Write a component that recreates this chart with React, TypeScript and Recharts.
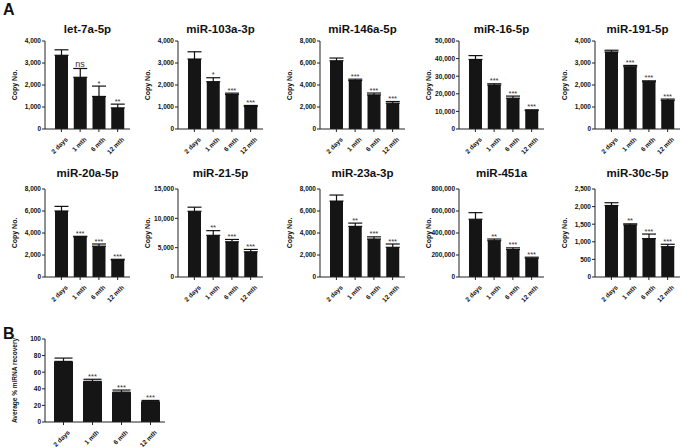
import React from 'react';
import { ComposedChart, Bar, Line, XAxis, YAxis, ErrorBar, LabelList } from 'recharts';

const FONT = '"Liberation Sans", Arial, Helvetica, sans-serif';

const timepoints = ['2 days', '1 mth', '6 mth', '12 mth'];

// panel A: copy numbers (mean, SEM, significance vs 2 days)
const let7aMean = [3350, 2350, 1480, 960];
const let7aSem = [250, 400, 470, 170];
const let7aSig = ['', 'ns', '*', '**'];

const mir103aMean = [3180, 2150, 1570, 1020];
const mir103aSem = [330, 180, 60, 50];
const mir103aSig = ['', '*', '***', '***'];

const mir146aMean = [6200, 4400, 3100, 2350];
const mir146aSem = [250, 130, 170, 150];
const mir146aSig = ['', '***', '***', '***'];

const mir16Mean = [39500, 25000, 17500, 10500];
const mir16Sem = [2200, 700, 1200, 400];
const mir16Sig = ['', '***', '***', '***'];

const mir191Mean = [3500, 2830, 2150, 1300];
const mir191Sem = [80, 60, 40, 60];
const mir191Sig = ['', '***', '***', '***'];

const mir20aMean = [6000, 3650, 2800, 1550];
const mir20aSem = [420, 50, 200, 60];
const mir20aSig = ['', '***', '***', '***'];

const mir21Mean = [11200, 7100, 6000, 4300];
const mir21Sem = [700, 800, 400, 400];
const mir21Sig = ['', '**', '***', '***'];

const mir23aMean = [6900, 4600, 3450, 2700];
const mir23aSem = [550, 300, 200, 300];
const mir23aSig = ['', '**', '***', '***'];

const mir451aMean = [525000, 330000, 250000, 170000];
const mir451aSem = [60000, 15000, 15000, 10000];
const mir451aSig = ['', '**', '***', '***'];

const mir30cMean = [2030, 1480, 1090, 860];
const mir30cSem = [80, 30, 130, 70];
const mir30cSig = ['', '**', '***', '***'];

// panel B: average % recovery
const recoveryMean = [73, 49, 36, 24.5];
const recoverySem = [4, 2.5, 2.5, 1.5];
const recoverySig = ['', '***', '***', '***'];

const ticks4k = [0, 1000, 2000, 3000, 4000];
const ticks8k = [0, 2000, 4000, 6000, 8000];
const ticks50k = [0, 10000, 20000, 30000, 40000, 50000];
const ticks15k = [0, 5000, 10000, 15000];
const ticks800k = [0, 200000, 400000, 600000, 800000];
const ticks2500 = [0, 500, 1000, 1500, 2000, 2500];
const ticksPct = [0, 20, 40, 60, 80, 100];

const buildData = (mean: number[], sem: number[], sig: string[]) =>
  timepoints.map((t, i) => ({
    t,
    mean: mean[i],
    err: [0, sem[i]],
    top: mean[i] + sem[i],
    sig: sig[i],
  }));

const panels = [
  { title: 'let-7a-5p', data: buildData(let7aMean, let7aSem, let7aSig), ticks: ticks4k },
  { title: 'miR-103a-3p', data: buildData(mir103aMean, mir103aSem, mir103aSig), ticks: ticks4k },
  { title: 'miR-146a-5p', data: buildData(mir146aMean, mir146aSem, mir146aSig), ticks: ticks8k },
  { title: 'miR-16-5p', data: buildData(mir16Mean, mir16Sem, mir16Sig), ticks: ticks50k },
  { title: 'miR-191-5p', data: buildData(mir191Mean, mir191Sem, mir191Sig), ticks: ticks4k },
  { title: 'miR-20a-5p', data: buildData(mir20aMean, mir20aSem, mir20aSig), ticks: ticks8k },
  { title: 'miR-21-5p', data: buildData(mir21Mean, mir21Sem, mir21Sig), ticks: ticks15k },
  { title: 'miR-23a-3p', data: buildData(mir23aMean, mir23aSem, mir23aSig), ticks: ticks8k },
  { title: 'miR-451a', data: buildData(mir451aMean, mir451aSem, mir451aSig), ticks: ticks800k },
  { title: 'miR-30c-5p', data: buildData(mir30cMean, mir30cSem, mir30cSig), ticks: ticks2500 },
];

const recoveryData = buildData(recoveryMean, recoverySem, recoverySig);

const colAxisX = [45, 178, 320, 459, 595];
const rowPlotTop = [41, 189];
const rowTitleY = [29, 173];

const XTick = (props: any) => {
  const { x, y, payload } = props;
  return (
    <g transform={`translate(${x + 4},${y + 3})`}>
      <text
        x={0}
        y={0}
        dy={4}
        textAnchor="end"
        transform="rotate(-45)"
        fontSize={6.5}
        fontWeight="bold"
        fontFamily={FONT}
        fill="#111"
      >
        {payload.value}
      </text>
    </g>
  );
};

const SigLabel = (props: any) => {
  const { x, y, value } = props;
  if (!value) return null;
  const ns = value === 'ns';
  return (
    <text
      x={x}
      y={ns ? y - 2 : y - 0.5}
      textAnchor="middle"
      fontSize={ns ? 9 : 7.5}
      fontFamily={FONT}
      fill="#333"
    >
      {value}
    </text>
  );
};

interface SmallBarProps {
  data: any[];
  ticks: number[];
  yLabel: string;
  yLabelSize: number;
  left: number;
  top: number;
  plotW: number;
  plotH: number;
  barSize: number;
  padL: number;
  padR: number;
  xAxisH: number;
  capW: number;
}

const SmallBar = ({ data, ticks, yLabel, yLabelSize, left, top, plotW, plotH, barSize, padL, padR, xAxisH, capW }: SmallBarProps) => {
  const yW = 44;
  const mTop = 6;
  const mRight = 4;
  return (
    <div style={{ position: 'absolute', left: left - yW, top: top - mTop }}>
      <ComposedChart
        width={yW + plotW + mRight}
        height={mTop + plotH + xAxisH}
        data={data}
        margin={{ top: mTop, right: mRight, left: 0, bottom: 0 }}
      >
        <XAxis
          dataKey="t"
          interval={0}
          height={xAxisH}
          padding={{ left: padL, right: padR }}
          tick={<XTick />}
          tickSize={3}
          axisLine={{ stroke: '#222', strokeWidth: 1 }}
          tickLine={{ stroke: '#222', strokeWidth: 1 }}
        />
        <YAxis
          width={yW}
          domain={[0, ticks[ticks.length - 1]]}
          ticks={ticks}
          interval={0}
          tickSize={3}
          tickMargin={1}
          axisLine={{ stroke: '#222', strokeWidth: 1 }}
          tickLine={{ stroke: '#222', strokeWidth: 1 }}
          tick={{ fontSize: 6.5, fontWeight: 'bold', fontFamily: FONT, fill: '#111' }}
          tickFormatter={(v: number) => v.toLocaleString('en-US')}
          label={{
            value: yLabel,
            angle: -90,
            position: 'insideLeft',
            offset: 14,
            style: { textAnchor: 'middle', fontSize: yLabelSize, fontWeight: 'bold', fontFamily: FONT, fill: '#111' },
          }}
        />
        <Bar dataKey="mean" fill="#151515" barSize={barSize} isAnimationActive={false}>
          <ErrorBar dataKey="err" width={capW} stroke="#111" strokeWidth={1.2} direction="y" />
        </Bar>
        <Line dataKey="top" stroke="none" dot={false} activeDot={false} legendType="none" isAnimationActive={false}>
          <LabelList dataKey="sig" content={<SigLabel />} />
        </Line>
      </ComposedChart>
    </div>
  );
};

const titleStyle = (cx: number, cy: number): React.CSSProperties => ({
  position: 'absolute',
  left: cx - 60,
  top: cy - 8,
  width: 120,
  textAlign: 'center',
  fontFamily: FONT,
  fontWeight: 'bold',
  fontSize: 11.5,
  lineHeight: '16px',
  color: '#111',
});

export default function App() {
  const plotW = 85;
  return (
    <div style={{ position: 'absolute', left: 0, top: 0, width: 685, height: 447, background: '#fff', overflow: 'hidden' }}>
      <div style={{ position: 'absolute', left: 3, top: 1, fontFamily: FONT, fontWeight: 'bold', fontSize: 16, color: '#111' }}>A</div>
      {panels.map((p, i) => {
        const row = Math.floor(i / 5);
        const col = i % 5;
        const ax = colAxisX[col];
        return (
          <React.Fragment key={p.title}>
            <div style={titleStyle(ax + plotW / 2, rowTitleY[row])}>{p.title}</div>
            <SmallBar
              data={p.data}
              ticks={p.ticks}
              yLabel="Copy No."
              yLabelSize={7}
              left={ax}
              top={rowPlotTop[row]}
              plotW={plotW}
              plotH={88}
              barSize={13}
              padL={7}
              padR={3}
              xAxisH={34}
              capW={7}
            />
          </React.Fragment>
        );
      })}
      <div style={{ position: 'absolute', left: 3, top: 325, fontFamily: FONT, fontWeight: 'bold', fontSize: 16, color: '#111' }}>B</div>
      <SmallBar
        data={recoveryData}
        ticks={ticksPct}
        yLabel="Average % miRNA recovery"
        yLabelSize={6.5}
        left={45}
        top={339}
        plotW={120}
        plotH={83}
        barSize={19}
        padL={4}
        padR={0}
        xAxisH={26}
        capW={9}
      />
    </div>
  );
}
